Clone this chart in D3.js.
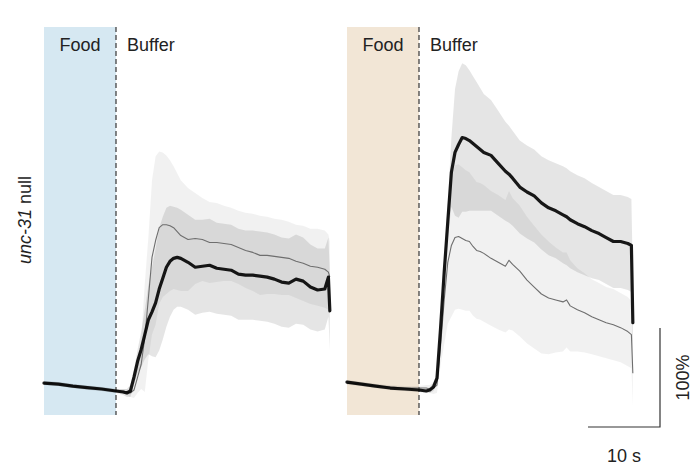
<!DOCTYPE html>
<html>
<head>
<meta charset="utf-8">
<script src="https://cdn.jsdelivr.net/npm/d3@7"></script>
<style>
  body { margin: 0; background: #fff; }
  svg { display: block; font-family: "Liberation Sans", Arial, Helvetica, sans-serif; }
</style>
</head>
<body>
<svg id="chart" width="693" height="468"></svg>
<script>
// Time (s) relative to the food -> buffer switch
const leftTime  = [-10, -8, -6, -4, -2, 0, 1, 1.5, 2, 2.5, 3, 3.5, 4, 4.5, 5, 5.5, 6, 6.5, 7, 7.5, 8, 8.5, 9,
                   10, 11, 12, 13, 14, 15, 16, 17, 18, 19, 20, 21, 22, 23, 24, 25, 26, 27, 28, 29, 29.5, 29.7];
const rightTime = [-10, -8, -6, -4, -2, 0, 1, 1.5, 2, 2.5, 3, 3.5, 4, 4.5, 5, 5.5, 6, 6.5, 7, 7.5, 8, 8.5, 9,
                   10, 11, 12, 12.5, 13, 14, 15, 16, 17, 18, 19, 20, 20.5, 21, 22, 23, 24, 25, 26, 27, 28, 29, 29.5, 29.7];

// Left panel: mean ΔF/F (%) and SEM, black (thick) and grey (thin) traces
const leftBlack = [8, 7, 5, 3.5, 2, 0, -1, -2, 0, 14, 30, 42, 57, 72, 80, 89, 103, 114, 125, 131, 134, 135, 134,
                   130, 125, 126, 127, 124, 123, 122, 118, 117, 117, 116, 115, 113, 110, 109, 113, 111, 105, 102, 103, 115, 81];
const leftBlackSem = [2, 2, 2, 2, 2, 2, 3, 4, 6, 8, 12, 18, 25, 35, 45, 55, 62, 62, 60, 56, 52, 50, 49,
                      48, 48, 47, 47, 46, 46, 46, 46, 45, 45, 45, 45, 45, 45, 45, 45, 44, 43, 42, 41, 40, 40];
const leftGrey = [8, 7, 5, 3, 2, 0, 0, -1, -2, 1, 14, 27, 54, 94, 135, 152, 165, 168, 168, 167, 165, 161, 157,
                  153, 154, 153, 150, 150, 149, 148, 145, 142, 140, 137, 137, 136, 135, 134, 131, 129, 126, 125, 123, 120, 115];
const leftGreySem = [2, 2, 2, 2, 2, 2, 2, 3, 4, 8, 16, 25, 55, 62, 78, 85, 77, 73, 70, 66, 62, 59, 56,
                     52, 46, 42, 41, 40, 38, 37, 37, 38, 39, 40, 39, 38, 38, 37, 37, 38, 38, 39, 39, 38, 36];

// Right panel
const rightBlack = [9, 7, 5, 3, 2, 1, 0, 1, 4, 13, 64, 120, 171, 221, 241, 249, 256, 255, 253, 250, 247, 244, 241,
                    238, 230, 222, 219, 215, 206, 201, 197, 190, 185, 182, 178, 176, 173, 169, 166, 162, 159, 155, 151, 151, 149, 147, 69];
const rightBlackSem = [2, 2, 2, 2, 2, 2, 2, 3, 4, 6, 8, 12, 18, 35, 64, 74, 75, 74, 71, 68, 65, 62, 59,
                       56, 53, 50, 49, 48, 47, 47, 47, 47, 48, 48, 49, 49, 49, 49, 49, 48, 47, 47, 47, 47, 47, 47, 47];
const rightGrey = [8, 7, 5, 4, 3, 3, 3, 2, 3, 6, 46, 92, 130, 147, 155, 156, 154, 152, 151, 146, 142, 141, 139,
                   134, 130, 126, 132, 128, 121, 112, 105, 98, 94, 92, 90, 92, 86, 82, 79, 75, 72, 69, 67, 64, 60, 57, 18];
const rightGreySem = [2, 2, 2, 2, 2, 2, 3, 4, 6, 8, 20, 45, 62, 72, 73, 73, 72, 71, 70, 70, 69, 69, 69,
                      68, 68, 67, 70, 67, 66, 64, 62, 60, 57, 53, 50, 48, 46, 42, 40, 38, 37, 36, 36, 35, 35, 34, 34];

const stimulusLabels = ["Food", "Buffer"];
const rowLabel = ["unc-31", " null"];
const scaleBarTime = 10;      // s
const scaleBarResponse = 100; // %

const svg = d3.select("#chart");

const y = d3.scaleLinear().domain([0, 100]).range([391, 292]);

const panels = [
  { time: leftTime, black: leftBlack, blackSem: leftBlackSem, grey: leftGrey, greySem: leftGreySem,
    range: [44, 329.84], food: "#d6e8f2" },
  { time: rightTime, black: rightBlack, blackSem: rightBlackSem, grey: rightGrey, greySem: rightGreySem,
    range: [347, 632.84], food: "#f2e6d6" }
];

panels.forEach(p => {
  const x = d3.scaleLinear().domain([-10, 29.7]).range(p.range);
  p.x = x;
  const g = svg.append("g");

  // food period
  g.append("rect")
    .attr("x", x(-10)).attr("y", 27)
    .attr("width", x(0) - x(-10)).attr("height", 388)
    .attr("fill", p.food);

  const rows = p.time.map((t, i) => ({
    t, b: p.black[i], bs: p.blackSem[i], g: p.grey[i], gs: p.greySem[i]
  }));

  // SEM bands
  g.append("path").datum(rows)
    .attr("d", d3.area().x(d => x(d.t)).y0(d => y(d.b - d.bs)).y1(d => y(d.b + d.bs)))
    .attr("fill", "#000").attr("fill-opacity", 0.1);
  g.append("path").datum(rows)
    .attr("d", d3.area().x(d => x(d.t)).y0(d => y(d.g - d.gs)).y1(d => y(d.g + d.gs)))
    .attr("fill", "#000").attr("fill-opacity", 0.055);

  // switch marker
  g.append("line")
    .attr("x1", x(0)).attr("x2", x(0)).attr("y1", 27).attr("y2", 415)
    .attr("stroke", "#444").attr("stroke-width", 1.3).attr("stroke-dasharray", "5,3");

  // mean traces
  g.append("path").datum(rows)
    .attr("d", d3.line().x(d => x(d.t)).y(d => y(d.g)))
    .attr("fill", "none").attr("stroke", "#6e6e6e").attr("stroke-width", 1.1)
    .attr("stroke-linejoin", "round");
  g.append("path").datum(rows)
    .attr("d", d3.line().x(d => x(d.t)).y(d => y(d.b)))
    .attr("fill", "none").attr("stroke", "#000").attr("stroke-opacity", 0.9)
    .attr("stroke-width", 3.2).attr("stroke-linejoin", "round").attr("stroke-linecap", "round");

  g.append("text")
    .attr("x", (x(-10) + x(0)) / 2).attr("y", 51)
    .attr("text-anchor", "middle").attr("font-size", 18).attr("fill", "#222")
    .text(stimulusLabels[0]);
  g.append("text")
    .attr("x", x(0) + 11).attr("y", 51)
    .attr("font-size", 18).attr("fill", "#222")
    .text(stimulusLabels[1]);
});

// row label
const rl = svg.append("text")
  .attr("transform", "translate(31,220) rotate(-90)")
  .attr("text-anchor", "middle").attr("font-size", 18).attr("fill", "#222");
rl.append("tspan").attr("font-style", "italic").text(rowLabel[0]);
rl.append("tspan").text(rowLabel[1]);

// scale bar
const xr = panels[1].x;
const sbX = 660, sbY = 427;
const sbW = xr(scaleBarTime) - xr(0);
const sbH = y(0) - y(scaleBarResponse);
svg.append("path")
  .attr("d", `M${sbX - sbW},${sbY}H${sbX}V${sbY - sbH}`)
  .attr("fill", "none").attr("stroke", "#333").attr("stroke-width", 1.2);
svg.append("text")
  .attr("x", sbX - sbW / 2).attr("y", 462)
  .attr("text-anchor", "middle").attr("font-size", 18).attr("fill", "#222")
  .text(scaleBarTime + " s");
svg.append("text")
  .attr("transform", `translate(689,${sbY - sbH / 2}) rotate(-90)`)
  .attr("text-anchor", "middle").attr("font-size", 18).attr("fill", "#222")
  .text(scaleBarResponse + "%");
</script>
</body>
</html>
